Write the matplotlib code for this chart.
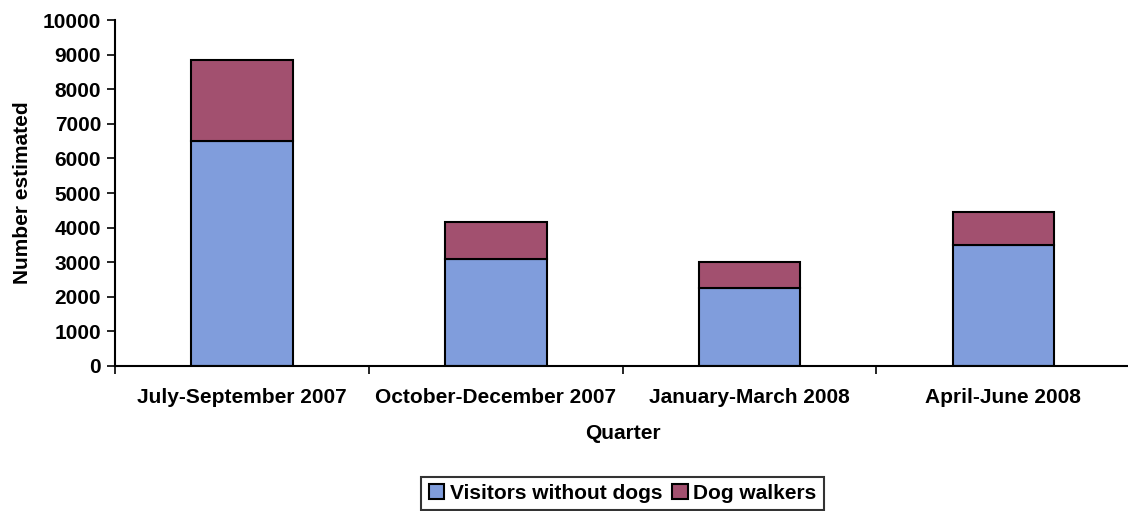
import matplotlib
matplotlib.use("Agg")
import matplotlib.pyplot as plt
import numpy as np

quarters = ["July-September 2007", "October-December 2007",
            "January-March 2008", "April-June 2008"]
without_dogs = [6500, 3080, 2250, 3500]
dog_walkers = [2350, 1070, 750, 960]

plt.rcParams['font.family'] = ['Liberation Sans', 'DejaVu Sans']
plt.rcParams['font.weight'] = 'bold'

fig = plt.figure(figsize=(11.28, 5.11), dpi=100)
ax = fig.add_axes([0.102, 0.2838, 0.900, 0.677])

x = np.arange(len(quarters))
ax.bar(x, without_dogs, width=0.4, color="#809ddc", edgecolor="black",
       linewidth=1.5, label="Visitors without dogs")
ax.bar(x, dog_walkers, width=0.4, bottom=without_dogs, color="#a2506f",
       edgecolor="black", linewidth=1.5, label="Dog walkers")

ax.set_xlim(-0.5, 3.5)
ax.set_ylim(0, 10000)
ax.set_yticks(range(0, 10001, 1000))
# category boundaries get the tick marks, names sit between them
ax.set_xticks(np.arange(-0.5, 3.6, 1.0))
ax.set_xticklabels([])
ax.set_xticks(x, minor=True)
ax.set_xticklabels(quarters, minor=True)
ax.tick_params(axis='x', which='minor', length=0, pad=16, labelsize=15)
ax.tick_params(axis='x', which='major', length=6, width=1.2, direction='out')
ax.tick_params(axis='y', length=6, width=1.2, labelsize=15, pad=4)

for s in ['top', 'right']:
    ax.spines[s].set_visible(False)
ax.spines['left'].set_linewidth(1.5)
ax.spines['bottom'].set_linewidth(1.5)

ax.set_xlabel("Quarter", fontsize=15, fontweight='bold', labelpad=12)
ax.set_ylabel("Number estimated", fontsize=15, fontweight='bold', labelpad=8)

leg = ax.legend(loc='upper center', bbox_to_anchor=(0.5, -0.29), ncol=2,
                frameon=True, fancybox=False, edgecolor='black', fontsize=15,
                handlelength=0.75, handleheight=0.75, handletextpad=0.25,
                columnspacing=0.5, borderpad=0.35)
leg.get_frame().set_linewidth(1.5)
for h in leg.legend_handles:
    h.set_edgecolor('black')
    h.set_linewidth(1.5)

fig.savefig("out.png", dpi=100)
